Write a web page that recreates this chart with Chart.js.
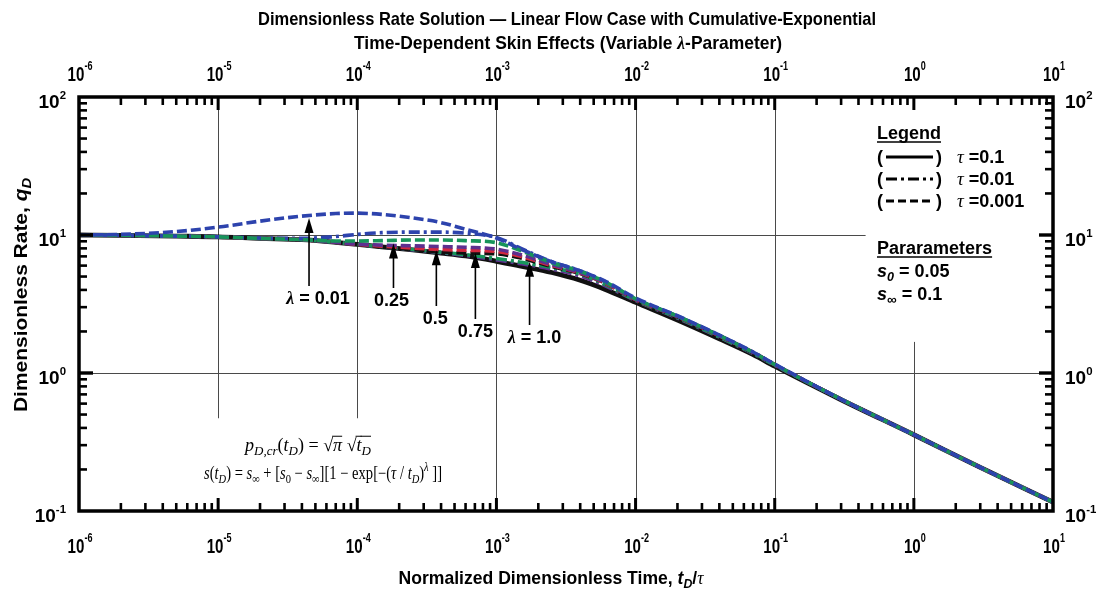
<!DOCTYPE html>
<html>
<head>
<meta charset="utf-8">
<title>Dimensionless Rate Solution</title>
<script src="https://cdn.jsdelivr.net/npm/chart.js@4.4.1/dist/chart.umd.min.js"></script>
<style>
  html, body { margin: 0; padding: 0; background: #fff; }
  #wrap { width: 1103px; height: 590px; }
</style>
</head>
<body>
<div id="wrap"><canvas id="chart" width="1103" height="590"></canvas></div>
<script>
// Normalized dimensionless time, tD/tau
const timeGrid = [1e-6, 2e-6, 5e-6, 1e-5, 2e-5, 4e-5, 7e-5, 1e-4, 1.5e-4, 2.5e-4, 4e-4, 6e-4,
                  1e-3, 1.5e-3, 2.5e-3, 4e-3, 6e-3, 1e-2, 2e-2, 4e-2, 7e-2, 1e-1, 3e-1, 1, 3, 10];

// tau = 0.1 (solid) - all lambda cases coincide
const qSolidTau01 = [10.0, 9.95, 9.82, 9.7, 9.45, 9.25, 8.85, 8.55, 8.2, 7.8, 7.4, 7.05,
                     6.45, 5.95, 5.35, 4.7, 4.05, 3.25, 2.42, 1.77, 1.36, 1.12, 0.64, 0.357, 0.207, 0.116];

// tau = 0.01 (dash-dot)
const qDashDotL001 = [10.0, 9.95, 9.82, 9.7, 9.5, 9.45, 9.75, 10.1, 10.4, 10.5, 10.5, 10.3,
                      9.6, 8.0, 6.4, 5.5, 4.6, 3.45, 2.58, 1.87, 1.41, 1.15, 0.645, 0.357, 0.207, 0.116];
const qDashDotL025 = [10.0, 9.95, 9.82, 9.7, 9.45, 9.25, 8.85, 8.55, 8.2, 7.85, 7.5, 7.2,
                      6.75, 6.35, 5.8, 5.2, 4.4, 3.37, 2.52, 1.83, 1.39, 1.14, 0.645, 0.357, 0.207, 0.116];
const qDashDotL050 = [10.0, 9.95, 9.82, 9.7, 9.45, 9.25, 8.85, 8.55, 8.2, 7.8, 7.45, 7.1,
                      6.6, 6.2, 5.65, 5.05, 4.3, 3.35, 2.5, 1.82, 1.38, 1.14, 0.645, 0.357, 0.207, 0.116];

// tau = 0.001 (dashed)
const qDashL001 = [10.0, 10.1, 10.6, 11.4, 12.6, 13.7, 14.3, 14.4, 14.1, 13.3, 12.3, 11.0,
                   9.5, 7.9, 6.4, 5.5, 4.65, 3.5, 2.6, 1.88, 1.42, 1.16, 0.645, 0.357, 0.207, 0.116];
const qDashL025 = [10.0, 9.95, 9.82, 9.7, 9.45, 9.25, 9.05, 9.05, 9.1, 9.2, 9.2, 9.1,
                   8.8, 7.7, 6.3, 5.45, 4.6, 3.45, 2.58, 1.87, 1.41, 1.15, 0.645, 0.357, 0.207, 0.116];
const qDashL050 = [10.0, 9.95, 9.82, 9.7, 9.45, 9.25, 8.85, 8.6, 8.45, 8.35, 8.25, 8.15,
                   7.9, 7.2, 6.1, 5.35, 4.55, 3.42, 2.57, 1.87, 1.41, 1.15, 0.645, 0.357, 0.207, 0.116];
const qDashL075 = [10.0, 9.95, 9.82, 9.7, 9.45, 9.25, 8.85, 8.55, 8.3, 8.05, 7.85, 7.75,
                   7.6, 7.0, 6.0, 5.3, 4.5, 3.4, 2.56, 1.86, 1.41, 1.15, 0.645, 0.357, 0.207, 0.116];
const qDashL100 = [10.0, 9.95, 9.82, 9.7, 9.45, 9.25, 8.85, 8.55, 8.2, 7.85, 7.55, 7.4,
                   7.3, 6.8, 5.9, 5.25, 4.5, 3.4, 2.55, 1.86, 1.4, 1.15, 0.645, 0.357, 0.207, 0.116];

// axis decades (exponents of 10)
const xTickExponents = [-6, -5, -4, -3, -2, -1, 0, 1];
const yTickExponents = [-1, 0, 1, 2];

// lambda call-outs: label, time and rate at the arrow tip
const lambdaLabels = ['λ = 0.01', '0.25', '0.5', '0.75', 'λ = 1.0'];
const lambdaArrowT = [4.5e-5, 1.82e-4, 3.7e-4, 7.06e-4, 1.73e-3];
const lambdaArrowQ = [13.3, 8.67, 7.75, 7.4, 6.4];

const legendTau = ['0.1', '0.01', '0.001'];
const paramS0 = '0.05';
const paramSinf = '0.1';

// ---------------------------------------------------------------------------
const COL = { blue: '#2d43ad', green: '#17955a', purple: '#5e2f8f', red: '#d3283e', black: '#111111' };
const DASH = [10, 4];
const DASHDOT = [11, 4, 3, 4];

function series(values, color, dash, width, order) {
  return {
    data: timeGrid.map((t, i) => ({ x: t, y: values[i] })),
    borderColor: color, borderDash: dash, borderWidth: width,
    pointRadius: 0, fill: false, cubicInterpolationMode: 'monotone', order
  };
}

const datasets = [
  series(qDashL001, COL.blue, DASH, 3.6, 0),
  series(qDashL025, COL.green, DASH, 3.6, 1),
  series(qDashL050, COL.purple, DASH, 3.6, 2),
  series(qDashL075, COL.red, DASH, 3.6, 3),
  series(qDashL100, COL.black, DASH, 3.6, 4),
  series(qDashDotL001, COL.blue, DASHDOT, 3.6, 5),
  series(qDashDotL025, COL.green, DASHDOT, 3.6, 6),
  series(qDashDotL050, COL.purple, DASHDOT, 3.6, 7),
  series(qSolidTau01, COL.black, [], 4.8, 10)
];

// ---------------------------------------------------------------------------
// rich text: segments {t, i(talic), f(amily), sc(ale), dy, over, nb(not bold)}
const SANS = "'Liberation Sans', Arial, sans-serif";
const SERIF = "'Liberation Serif', 'Times New Roman', serif";

function fontOf(s, size, fam, bold) {
  const b = (s.nb || !bold) ? '' : 'bold ';
  return (s.i ? 'italic ' : '') + b + (size * (s.sc || 1)).toFixed(2) + 'px ' + (s.f || fam);
}
function drawRich(ctx, segs, x, y, o) {
  const size = o.size, fam = o.fam || SANS, bold = o.bold !== false;
  let nat = 0;
  segs.forEach(s => { ctx.font = fontOf(s, size, fam, bold); s._w = ctx.measureText(s.t).width; nat += s._w; });
  const sx = o.width ? o.width / nat : (o.sx || 1);
  const w = nat * sx;
  const x0 = o.align === 'center' ? x - w / 2 : o.align === 'right' ? x - w : x;
  ctx.save();
  ctx.translate(x0, y);
  ctx.scale(sx, 1);
  ctx.fillStyle = o.color || '#000';
  ctx.strokeStyle = o.color || '#000';
  ctx.textBaseline = 'alphabetic';
  ctx.textAlign = 'left';
  let cx = 0;
  segs.forEach(s => {
    ctx.font = fontOf(s, size, fam, bold);
    ctx.fillText(s.t, cx, s.dy || 0);
    if (s.over) {
      ctx.lineWidth = 1;
      ctx.beginPath(); ctx.moveTo(cx - 1, -size * 0.82); ctx.lineTo(cx + s._w, -size * 0.82); ctx.stroke();
    }
    cx += s._w;
  });
  if (o.under) {
    ctx.lineWidth = 1.6;
    ctx.beginPath(); ctx.moveTo(0, o.under); ctx.lineTo(nat, o.under); ctx.stroke();
  }
  ctx.restore();
  return w;
}
function drawRichRotated(ctx, segs, cx, cy, o) {
  ctx.save();
  ctx.translate(cx, cy);
  ctx.rotate(-Math.PI / 2);
  drawRich(ctx, segs, 0, 0, Object.assign({}, o, { align: 'center' }));
  ctx.restore();
}
const pow10 = (e, up) => [{ t: '10' }, { t: String(e), sc: 0.6, dy: -(up || 9) }];

// ---------------------------------------------------------------------------
const decorations = {
  id: 'decorations',
  beforeDatasetsDraw(chart) {
    const { ctx, scales: { x, y } } = chart;
    ctx.save();
    ctx.strokeStyle = '#4a4a4a';
    ctx.lineWidth = 1;
    const line = (x1, y1, x2, y2) => { ctx.beginPath(); ctx.moveTo(x1, y1); ctx.lineTo(x2, y2); ctx.stroke(); };
    // vertical rules [time, from rate, to rate]
    [[1e-5, 0.47, 100], [1e-4, 0.47, 100], [1e-3, 0.1, 100], [1e-2, 0.1, 100], [1e-1, 0.1, 100], [1, 0.1, 1.68]]
      .forEach(([t, q0, q1]) => {
        const px = Math.round(x.getPixelForValue(t)) + 0.5;
        line(px, y.getPixelForValue(q0), px, y.getPixelForValue(q1));
      });
    // horizontal rules [rate, from time, to time]
    [[10, 1e-6, 0.45], [1, 1e-6, 10]].forEach(([q, t0, t1]) => {
      const py = Math.round(y.getPixelForValue(q)) + 0.5;
      line(x.getPixelForValue(t0), py, x.getPixelForValue(t1), py);
    });
    ctx.restore();
  },
  afterDatasetsDraw(chart) {
    const { ctx, chartArea: a, scales: { x, y } } = chart;
    ctx.save();
    ctx.strokeStyle = '#000';
    ctx.fillStyle = '#000';

    // lambda arrows and labels
    const labelBase = [304, 306, 324, 337, 343];
    const labelDx = [9, -2, -1, 0, 5];
    lambdaLabels.forEach((lab, i) => {
      const px = x.getPixelForValue(lambdaArrowT[i]);
      const tip = y.getPixelForValue(lambdaArrowQ[i]);
      const tail = labelBase[i] - 18;
      ctx.lineWidth = 1.6;
      ctx.beginPath(); ctx.moveTo(px, tail); ctx.lineTo(px, tip + 12); ctx.stroke();
      ctx.beginPath(); ctx.moveTo(px, tip); ctx.lineTo(px - 4.5, tip + 15); ctx.lineTo(px + 4.5, tip + 15); ctx.closePath(); ctx.fill();
      const segs = lab.startsWith('λ')
        ? [{ t: 'λ', i: true, f: SERIF }, { t: lab.slice(1) }]
        : [{ t: lab }];
      drawRich(ctx, segs, px + labelDx[i], labelBase[i], { size: 18, align: 'center' });
    });

    // plot frame
    ctx.lineWidth = 3.5;
    ctx.strokeRect(a.left, a.top, a.right - a.left, a.bottom - a.top);

    // tick marks on all four sides
    const minors = [2, 3, 4, 5, 6, 7, 8, 9];
    const tick = (x1, y1, x2, y2, w) => { ctx.lineWidth = w; ctx.beginPath(); ctx.moveTo(x1, y1); ctx.lineTo(x2, y2); ctx.stroke(); };
    xTickExponents.forEach((e, k) => {
      const px = x.getPixelForValue(Math.pow(10, e));
      if (k > 0 && k < xTickExponents.length - 1) {
        tick(px, a.bottom, px, a.bottom - 13, 3);
        tick(px, a.top, px, a.top + 13, 3);
      }
      if (k < xTickExponents.length - 1) {
        minors.forEach(m => {
          const mx = x.getPixelForValue(m * Math.pow(10, e));
          tick(mx, a.bottom, mx, a.bottom - 8, 2.6);
          tick(mx, a.top, mx, a.top + 8, 2.6);
        });
      }
    });
    yTickExponents.forEach((e, k) => {
      const py = y.getPixelForValue(Math.pow(10, e));
      if (k > 0 && k < yTickExponents.length - 1) {
        tick(a.left, py, a.left + 14, py, 3.4);
        tick(a.right, py, a.right - 14, py, 3.4);
      }
      if (k < yTickExponents.length - 1) {
        minors.forEach(m => {
          const my = y.getPixelForValue(m * Math.pow(10, e));
          tick(a.left, my, a.left + 8, my, 2.6);
          tick(a.right, my, a.right - 8, my, 2.6);
        });
      }
    });

    // tick labels
    xTickExponents.forEach(e => {
      const px = x.getPixelForValue(Math.pow(10, e));
      drawRich(ctx, pow10(e, 11), px + 1, 81, { size: 21, sx: 0.72, align: 'center' });
      drawRich(ctx, pow10(e, 11), px + 1, 553, { size: 21, sx: 0.72, align: 'center' });
    });
    yTickExponents.forEach(e => {
      const py = y.getPixelForValue(Math.pow(10, e));
      drawRich(ctx, pow10(e), a.left - 13, py + 11, { size: 19, align: 'right' });
      drawRich(ctx, pow10(e), a.right + 12, py + 11, { size: 19, align: 'left' });
    });

    // legend block
    const lx = 877;
    drawRich(ctx, [{ t: 'Legend' }], lx, 139, { size: 18, under: 3 });
    const rows = [163, 185, 207];
    const styles = [[], DASHDOT, [8, 4]];
    legendTau.forEach((tau, i) => {
      const by = rows[i];
      drawRich(ctx, [{ t: '(' }], lx, by, { size: 18 });
      drawRich(ctx, [{ t: ')' }], lx + 59, by, { size: 18 });
      ctx.save();
      ctx.lineWidth = 3;
      ctx.setLineDash(styles[i]);
      ctx.beginPath(); ctx.moveTo(lx + 9, by - 6); ctx.lineTo(lx + 56, by - 6); ctx.stroke();
      ctx.restore();
      drawRich(ctx, [{ t: 'τ', i: true, nb: true, f: SERIF, sc: 1.05 }, { t: ' =' + tau }], lx + 80, by, { size: 18 });
    });
    drawRich(ctx, [{ t: 'Pararameters' }], lx, 254, { size: 18, under: 3 });
    drawRich(ctx, [{ t: 's', i: true }, { t: '0', i: true, sc: 0.7, dy: 4 }, { t: ' = ' + paramS0 }], lx, 277, { size: 18 });
    drawRich(ctx, [{ t: 's', i: true }, { t: '∞', i: true, sc: 0.75, dy: 4 }, { t: ' = ' + paramSinf }], lx, 300, { size: 18 });

    // model equations
    const sub = t => ({ t, i: true, sc: 0.72, dy: 4 });
    drawRich(ctx, [
      { t: 'p', i: true }, sub('D,cr'), { t: '(' }, { t: 't', i: true }, sub('D'), { t: ') = ' },
      { t: '√' }, { t: 'π', i: true, over: true }, { t: ' ' }, { t: '√' }, { t: 't', i: true, over: true },
      { t: 'D', i: true, sc: 0.72, dy: 4, over: true }
    ], 245, 451, { size: 18, fam: SERIF, bold: false, width: 126 });
    drawRich(ctx, [
      { t: 's', i: true }, { t: '(' }, { t: 't', i: true }, sub('D'), { t: ') = ' },
      { t: 's', i: true }, { t: '∞', sc: 0.72, dy: 4 }, { t: ' + [' },
      { t: 's', i: true }, { t: '0', sc: 0.72, dy: 4 }, { t: ' − ' },
      { t: 's', i: true }, { t: '∞', sc: 0.72, dy: 4 }, { t: '][1 − exp[−(' },
      { t: 'τ', i: true }, { t: ' / ' }, { t: 't', i: true }, sub('D'), { t: ')' },
      { t: 'λ', i: true, sc: 0.72, dy: -8 }, { t: ' ]]' }
    ], 204, 479, { size: 18, fam: SERIF, bold: false, width: 238 });

    // titles
    drawRich(ctx, [{ t: 'Dimensionless Rate Solution — Linear Flow Case with Cumulative-Exponential' }],
      567, 25, { size: 19, width: 618, align: 'center' });
    drawRich(ctx, [{ t: 'Time-Dependent Skin Effects (Variable ' }, { t: 'λ', i: true, f: SERIF },
      { t: '-Parameter)' }], 568, 49, { size: 19, width: 428, align: 'center' });
    drawRich(ctx, [{ t: 'Normalized Dimensionless Time, ' }, { t: 't', i: true },
      { t: 'D', i: true, sc: 0.7, dy: 4 }, { t: '/' }, { t: 'τ', i: true, f: SERIF, nb: true }],
      551, 584, { size: 19, width: 305, align: 'center' });
    drawRichRotated(ctx, [{ t: 'Dimensionless Rate, ' }, { t: 'q', i: true },
      { t: 'D', i: true, sc: 0.7, dy: 4 }], 27, 295, { size: 18, width: 234 });

    ctx.restore();
  }
};

new Chart(document.getElementById('chart'), {
  type: 'line',
  data: { datasets },
  options: {
    responsive: false,
    animation: false,
    devicePixelRatio: 1,
    layout: { padding: { left: 79, top: 97, right: 50, bottom: 79 } },
    scales: {
      x: { type: 'logarithmic', min: 1e-6, max: 10, display: false },
      y: { type: 'logarithmic', min: 0.1, max: 100, display: false }
    },
    plugins: { legend: { display: false }, tooltip: { enabled: false }, title: { display: false } }
  },
  plugins: [decorations]
});
</script>
</body>
</html>
